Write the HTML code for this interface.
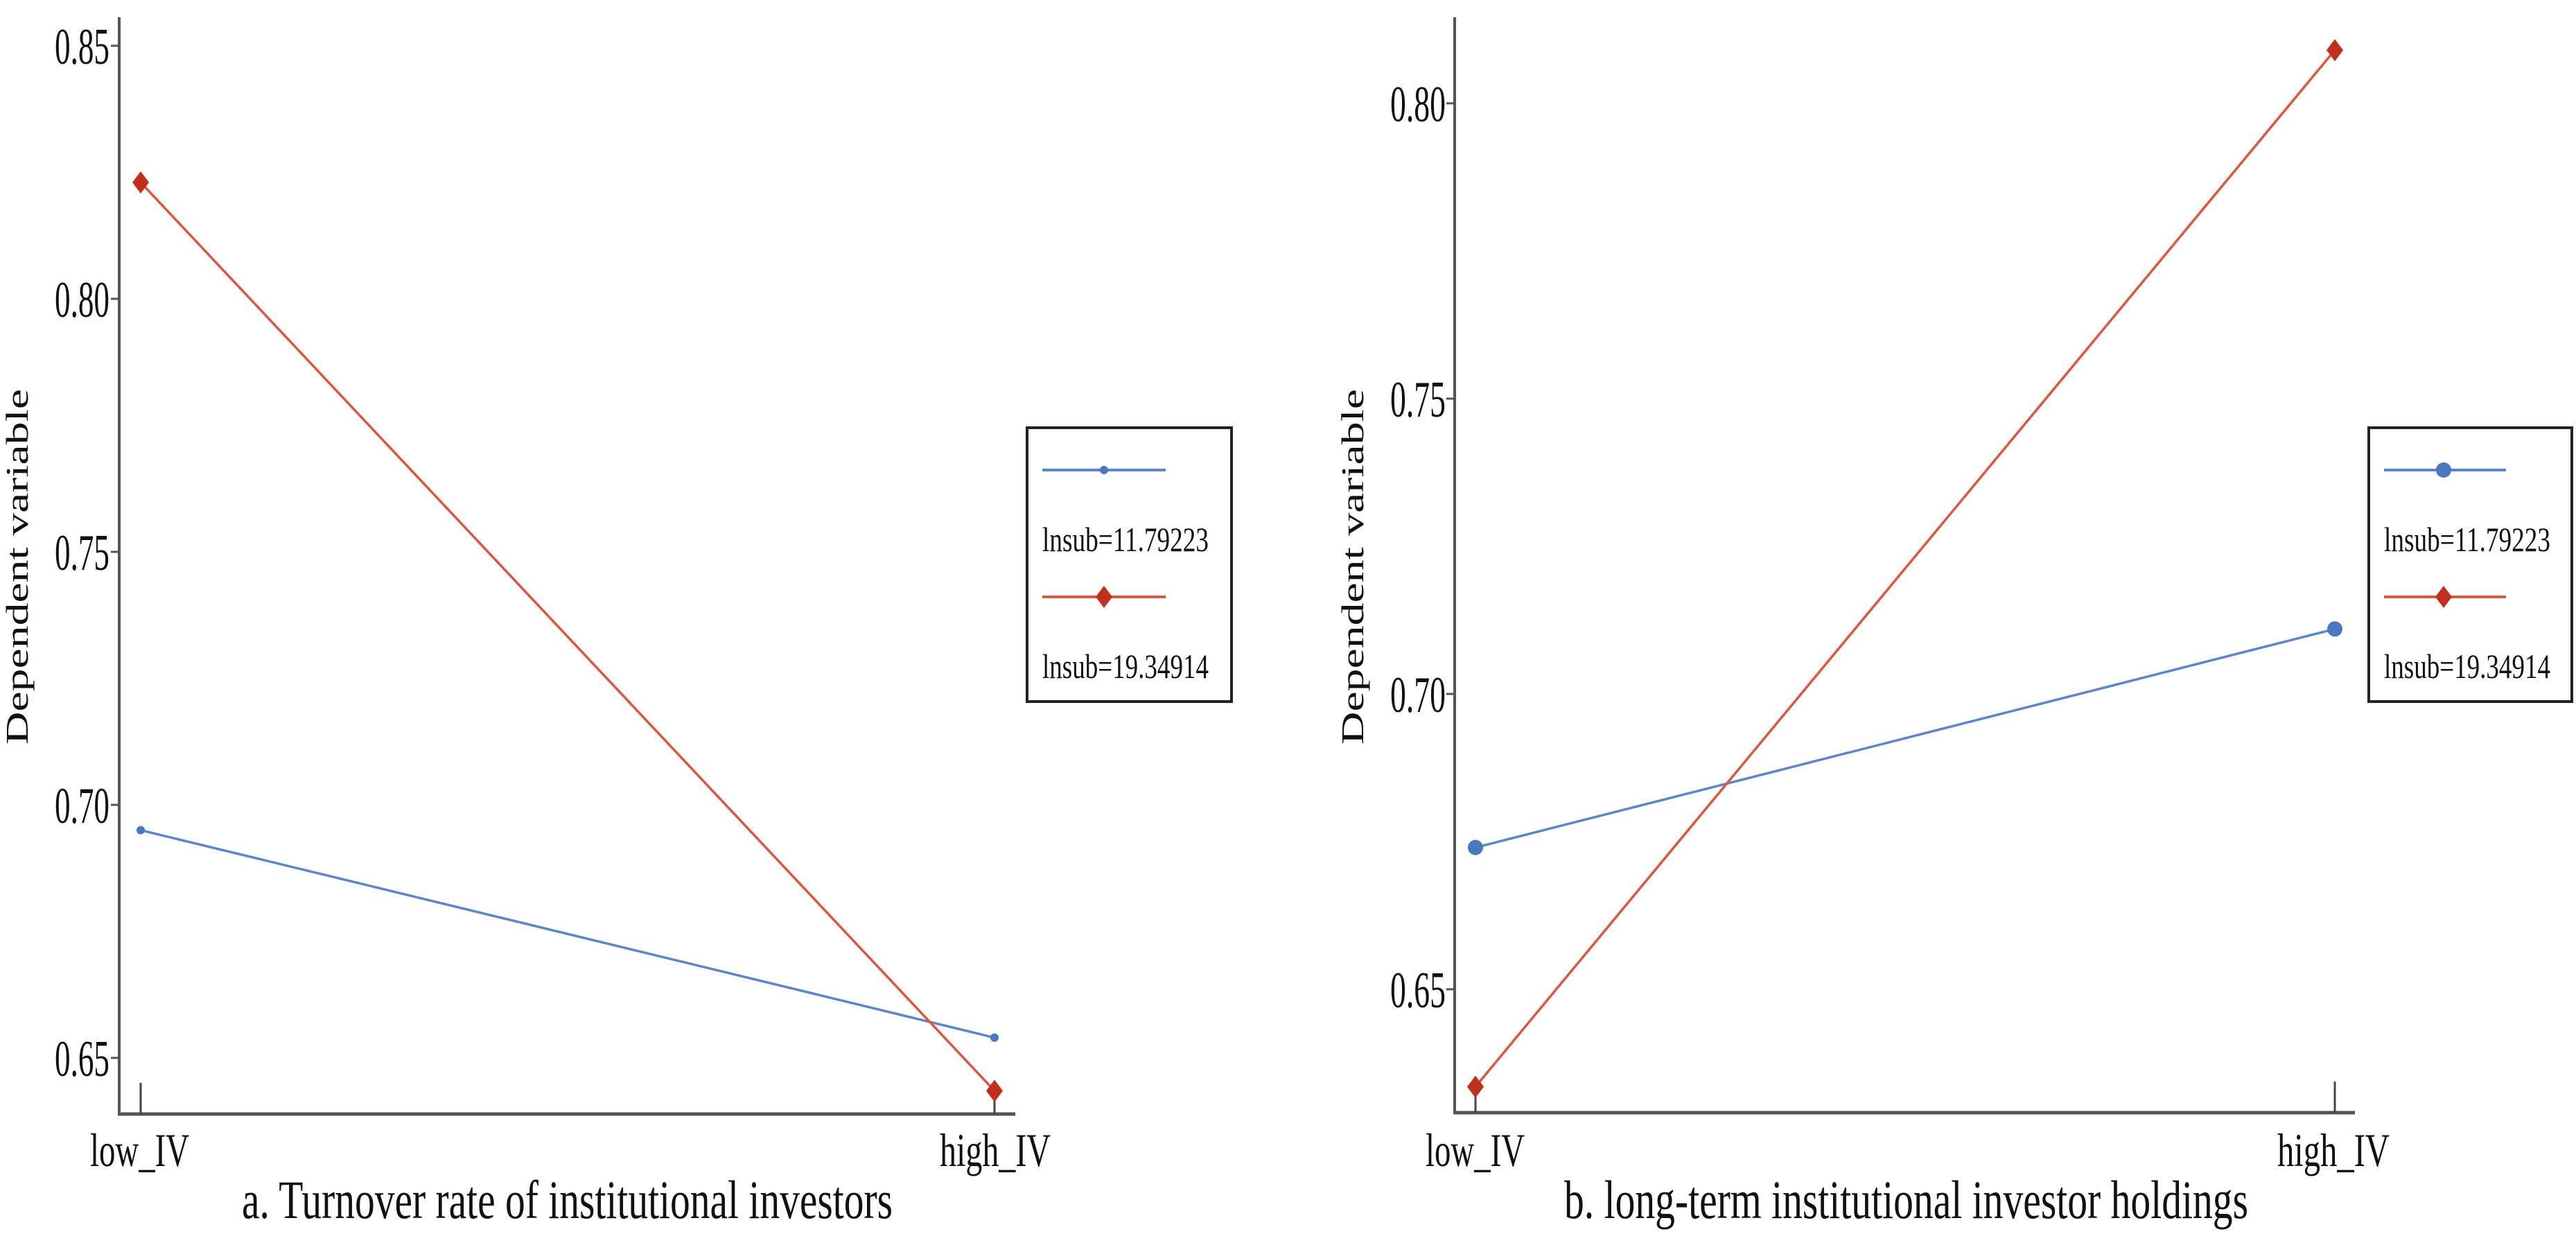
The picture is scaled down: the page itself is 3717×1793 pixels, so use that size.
<!DOCTYPE html>
<html><head><meta charset="utf-8"><style>
html,body{margin:0;padding:0;background:#fff;}
svg{display:block;}
text{font-family:"Liberation Serif",serif;fill:#111;}
</style></head><body>
<svg id="chart" width="3717" height="1793" viewBox="0 0 3717 1793" xmlns="http://www.w3.org/2000/svg"></svg>
<script>
const categories = ["low_IV","high_IV"];
const panelATicks = [0.65,0.70,0.75,0.80,0.85];
const panelABlue = [0.695,0.654];
const panelARed = [0.823,0.6435];
const panelBTicks = [0.65,0.70,0.75,0.80];
const panelBBlue = [0.674,0.711];
const panelBRed = [0.6335,0.809];
const legendLabels = ["lnsub=11.79223","lnsub=19.34914"];
const panelTitles = ["a. Turnover rate of institutional investors","b. long-term institutional investor holdings"];

const NS="http://www.w3.org/2000/svg";
const svg=document.getElementById('chart');
function mk(tag,attrs,parent){const e=document.createElementNS(NS,tag);for(const k in attrs)e.setAttribute(k,attrs[k]);(parent||svg).appendChild(e);return e;}

const panels=[
 {ax:172,top:25,bottom:1607,xend:1465,xs:[203,1435],v0:0.65,y0:1526,v1:0.85,y1:66,ticks:panelATicks,blue:panelABlue,red:panelARed,blueR:6,
  tickL:79,tickR:158,ylabX:40,xlab:[[130,273],[1356,1516]],title:[349,1288],legend:[1482,617,1777,1012],legLine:[1504,1682],legMark:1593},
 {ax:2099,top:25,bottom:1605,xend:3398,xs:[2129,3369],v0:0.65,y0:1427,v1:0.80,y1:149,ticks:panelBTicks,blue:panelBBlue,red:panelBRed,blueR:11,
  tickL:2006,tickR:2086,ylabX:1967,xlab:[[2057,2200],[3286,3448]],title:[2257,3244],legend:[3418,617,3711,1012],legLine:[3440,3616],legMark:3526}
];

panels.forEach((p,pi)=>{
 const g=mk('g',{});
 
 
 const y=v=>p.y0+(v-p.v0)*(p.y1-p.y0)/(p.v1-p.v0);
 // axes
 const ya=mk('line',{x1:p.ax,y1:p.top,x2:p.ax,y2:p.bottom,stroke:'#555','stroke-width':4},g);
 
 const xa=mk('line',{x1:p.ax-2,y1:p.bottom,x2:p.xend,y2:p.bottom,stroke:'#555','stroke-width':5},g);
 
 p.ticks.forEach(t=>{
  const ty=y(t);
  const tk=mk('line',{x1:p.ax-12,y1:ty,x2:p.ax,y2:ty,stroke:'#555','stroke-width':3},g);
  
  const tl=mk('text',{x:p.tickL,y:ty+26,'font-size':74,textLength:p.tickR-p.tickL,lengthAdjust:'spacingAndGlyphs'},g);
  tl.textContent=t.toFixed(2);
  
 });
 categories.forEach((c,i)=>{
  const tk=mk('line',{x1:p.xs[i],y1:p.bottom,x2:p.xs[i],y2:p.bottom-45,stroke:'#444','stroke-width':3},g);
  
  const xl=mk('text',{x:p.xlab[i][0],y:1682,'font-size':68,textLength:p.xlab[i][1]-p.xlab[i][0],lengthAdjust:'spacingAndGlyphs'},g);
  xl.textContent=c;
  
 });
 const yl=mk('text',{x:0,y:0,'font-size':46,textLength:513,lengthAdjust:'spacingAndGlyphs',transform:`translate(${p.ylabX},1074) rotate(-90)`},g);
 yl.textContent='Dependent variable';
 
 const tt=mk('text',{x:p.title[0],y:1757,'font-size':78,textLength:p.title[1]-p.title[0],lengthAdjust:'spacingAndGlyphs'},g);
 tt.textContent=panelTitles[pi];
 
 // series
 const bl=mk('polyline',{points:p.xs.map((x,i)=>x+','+y(p.blue[i])).join(' '),fill:'none',stroke:'#5b86c9','stroke-width':3.5},g);
 
 const rl=mk('polyline',{points:p.xs.map((x,i)=>x+','+y(p.red[i])).join(' '),fill:'none',stroke:'#e0553d','stroke-width':3.5},g);
 
 p.blue.forEach((v,i)=>{
  const c=mk('circle',{cx:p.xs[i],cy:y(v),r:p.blueR,fill:'#4a78c0'},g);
  
 });
 p.red.forEach((v,i)=>{
  const cx=p.xs[i],cy=y(v);
  const d=mk('polygon',{points:`${cx},${cy-16} ${cx+12},${cy} ${cx},${cy+16} ${cx-12},${cy}`,fill:'#c0301c'},g);
  
 });
 // legend
 const L=p.legend;
 const lg=mk('g',{},g);
 
 mk('rect',{x:L[0],y:L[1],width:L[2]-L[0],height:L[3]-L[1],fill:'#fff',stroke:'#222','stroke-width':4},lg);
 mk('line',{x1:p.legLine[0],y1:678,x2:p.legLine[1],y2:678,stroke:'#5b86c9','stroke-width':4},lg);
 mk('circle',{cx:p.legMark,cy:678,r:p.blueR,fill:'#4a78c0'},lg);
 mk('line',{x1:p.legLine[0],y1:861,x2:p.legLine[1],y2:861,stroke:'#e0553d','stroke-width':4},lg);
 mk('polygon',{points:`${p.legMark},${845} ${p.legMark+12},861 ${p.legMark},877 ${p.legMark-12},861`,fill:'#c0301c'},lg);
 [795,978].forEach((by,i)=>{
  const t=mk('text',{x:p.legLine[0],y:by,'font-size':50,textLength:240,lengthAdjust:'spacingAndGlyphs'},lg);
  t.textContent=legendLabels[i];
  
 });
});
</script>
</body></html>
